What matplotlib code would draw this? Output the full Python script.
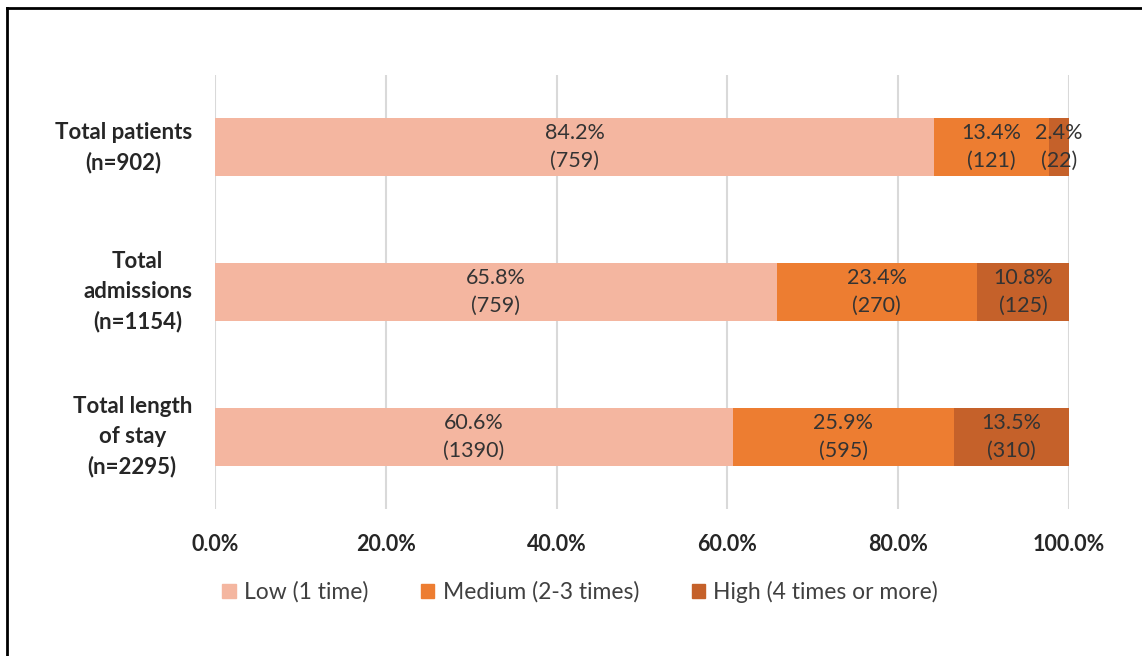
import matplotlib.pyplot as plt
from matplotlib.lines import Line2D

# frequency groups, shares in percent and raw counts
categories = ["Total patients\n(n=902)", "Total\nadmissions\n(n=1154)", "Total length\nof stay\n(n=2295)"]
groups = ["Low (1 time)", "Medium (2-3 times)", "High (4 times or more)"]
low_pct = [84.2, 65.8, 60.6]
med_pct = [13.4, 23.4, 25.9]
high_pct = [2.4, 10.8, 13.5]
low_n = [759, 759, 1390]
med_n = [121, 270, 595]
high_n = [22, 125, 310]
xticks = [0, 20, 40, 60, 80, 100]
colors = ["#F4B6A0", "#ED7D31", "#C5612A"]

plt.rcParams['font.family'] = ['Lato', 'DejaVu Sans']
fig = plt.figure(figsize=(11.42, 6.56), dpi=100)
ax = fig.add_axes([215/1142, 1-509/656, (1069-215)/1142, (509-75)/656])

ypos = list(range(len(categories)))
left = [0] * len(categories)
for pct, cnt, col, name in [(low_pct, low_n, colors[0], groups[0]),
                            (med_pct, med_n, colors[1], groups[1]),
                            (high_pct, high_n, colors[2], groups[2])]:
    bars = ax.barh(ypos, pct, left=left, height=0.4, color=col, label=name, zorder=2)
    for i, b in enumerate(bars):
        cx = left[i] + pct[i] / 2
        ax.text(cx, ypos[i], "%.1f%%\n(%d)" % (pct[i], cnt[i]), ha='center', va='center',
                fontsize=15.5, color='#333333', linespacing=1.5, zorder=3)
    left = [l + p for l, p in zip(left, pct)]

ax.set_xlim(0, 100)
ax.set_ylim(2.5, -0.5)
ax.set_xticks(xticks)
ax.set_xticklabels(["%.1f%%" % t for t in xticks], fontsize=15.5, fontweight='bold', color='#262626')
ax.set_yticks(ypos)
ax.set_yticklabels([])
for i, c in enumerate(categories):
    ax.annotate(c, xy=(0, ypos[i]), xycoords=('axes fraction', 'data'), xytext=(-23, 0),
                textcoords='offset pixels', ha='right', va='center', multialignment='center',
                fontsize=16, fontweight='bold', color='#262626', linespacing=1.5)
ax.tick_params(axis='both', length=0)
ax.tick_params(axis='x', pad=18)
ax.grid(axis='x', color='#d9d9d9', linewidth=1.5, zorder=0)
for s in ax.spines.values():
    s.set_visible(False)

handles = [plt.Rectangle((0, 0), 1, 1, color=c) for c in colors]
fig.legend(handles, groups, loc='center', bbox_to_anchor=(580/1142, 1-592/656), ncol=3,
           frameon=False, fontsize=16.5, handlelength=0.6, handleheight=0.6,
           columnspacing=2.3, handletextpad=0.35, labelcolor='#404040')

# outer frame
fig.add_artist(Line2D([7/1142, 7/1142], [0, 1-8/656], color='black', linewidth=2, transform=fig.transFigure))
fig.add_artist(Line2D([7/1142, 1], [1-8/656, 1-8/656], color='black', linewidth=2, transform=fig.transFigure))

fig.savefig("out.png", dpi=100)
